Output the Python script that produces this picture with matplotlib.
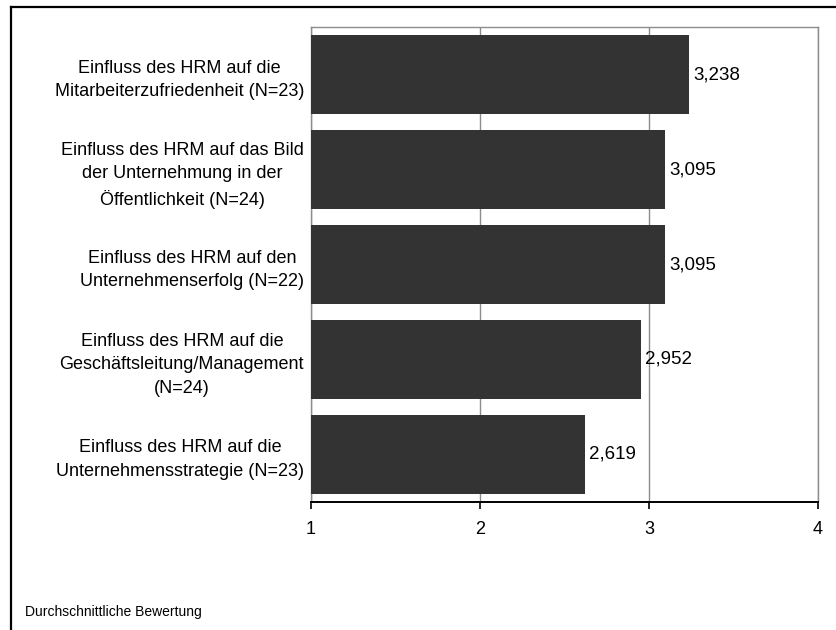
import matplotlib.pyplot as plt
from matplotlib.lines import Line2D

plt.rcParams['font.family'] = ['Liberation Sans', 'DejaVu Sans']

# mean rating per item, top to bottom
labels = [
    'Einfluss des HRM auf die\nMitarbeiterzufriedenheit (N=23)',
    'Einfluss des HRM auf das Bild\nder Unternehmung in der\nÖffentlichkeit (N=24)',
    'Einfluss des HRM auf den\nUnternehmenserfolg (N=22)',
    'Einfluss des HRM auf die\nGeschäftsleitung/Management\n(N=24)',
    'Einfluss des HRM auf die\nUnternehmensstrategie (N=23)',
]
values = [3.238, 3.095, 3.095, 2.952, 2.619]
xticks = [1, 2, 3, 4]
footer = 'Durchschnittliche Bewertung'

fig = plt.figure(figsize=(8.37, 6.3), dpi=100)
ax = fig.add_axes([0.3716, 0.2032, 0.6057, 0.7539])

pos = list(range(len(values)))
# bars start at the axis origin 1
ax.barh(pos, [v - 1 for v in values], left=1, height=0.84,
        color='#333333', zorder=3)

for p, v in zip(pos, values):
    ax.annotate(f'{v:.3f}'.replace('.', ','), xy=(v, p),
                xytext=(3, 0), textcoords='offset points',
                ha='left', va='center', fontsize=13.5, zorder=4)

ax.set_xlim(1, 4)
ax.set_ylim(len(values) - 0.5, -0.5)
ax.set_xticks(xticks)
ax.set_xticklabels([str(t) for t in xticks])
ax.set_yticks(pos)
ax.set_yticklabels(labels)
for t in ax.get_yticklabels():
    t.set_multialignment('center')
    t.set_linespacing(1.5)

ax.xaxis.grid(True, color='#8c8c8c', linewidth=1.0, zorder=0)
ax.tick_params(axis='x', direction='out', length=5, width=1.2,
               color='black', labelsize=13, pad=9)
ax.tick_params(axis='y', length=0, labelsize=13, pad=5)

for side in ('top', 'right', 'left'):
    ax.spines[side].set_color('#8c8c8c')
    ax.spines[side].set_linewidth(1.0)
ax.spines['bottom'].set_color('black')
ax.spines['bottom'].set_linewidth(1.4)

fig.text(25 / 837, 1 - 612 / 630, footer, fontsize=10,
         ha='left', va='center')

# outer frame, only top and left edges visible
fig.add_artist(Line2D([11.5 / 837, 1.0], [1 - 6.5 / 630, 1 - 6.5 / 630],
                      color='black', linewidth=1.6, transform=fig.transFigure))
fig.add_artist(Line2D([11.5 / 837, 11.5 / 837], [0.0, 1 - 6.5 / 630],
                      color='black', linewidth=1.6, transform=fig.transFigure))

fig.savefig('out.png', dpi=100, facecolor='white')
